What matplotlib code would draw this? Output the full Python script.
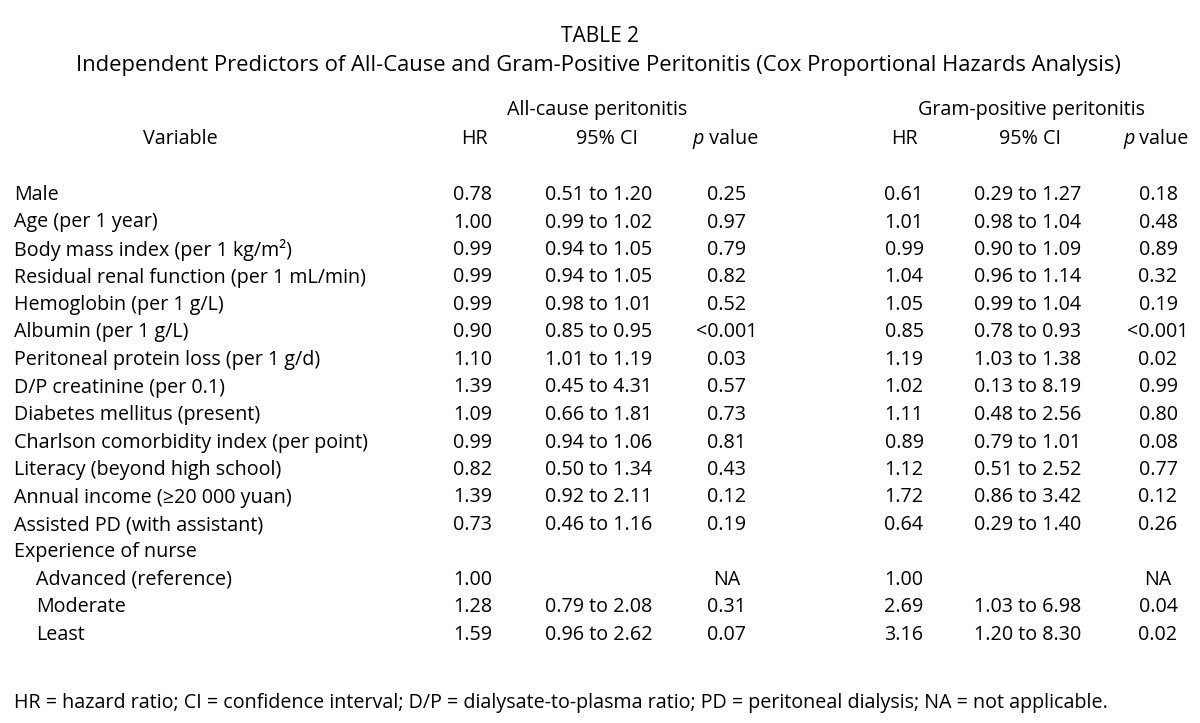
import matplotlib
matplotlib.use("Agg")
import matplotlib.pyplot as plt

plt.rcParams['font.family'] = ['Open Sans', 'DejaVu Sans']

title = "TABLE 2"
subtitle = "Independent Predictors of All-Cause and Gram-Positive Peritonitis (Cox Proportional Hazards Analysis)"
group_labels = ["All-cause peritonitis", "Gram-positive peritonitis"]
footnote = ("HR = hazard ratio; CI = confidence interval; D/P = dialysate-to-plasma ratio; "
            "PD = peritoneal dialysis; NA = not applicable.")

variables = [
    "Male", "Age (per 1 year)", "Body mass index (per 1 kg/m²)",
    "Residual renal function (per 1 mL/min)", "Hemoglobin (per 1 g/L)",
    "Albumin (per 1 g/L)", "Peritoneal protein loss (per 1 g/d)",
    "D/P creatinine (per 0.1)", "Diabetes mellitus (present)",
    "Charlson comorbidity index (per point)", "Literacy (beyond high school)",
    "Annual income (≥20 000 yuan)", "Assisted PD (with assistant)",
    "Experience of nurse", "Advanced (reference)", "Moderate", "Least",
]
indented = [False] * 14 + [True] * 3

hr_all = ["0.78", "1.00", "0.99", "0.99", "0.99", "0.90", "1.10", "1.39", "1.09",
          "0.99", "0.82", "1.39", "0.73", "", "1.00", "1.28", "1.59"]
ci_all = ["0.51 to 1.20", "0.99 to 1.02", "0.94 to 1.05", "0.94 to 1.05", "0.98 to 1.01",
          "0.85 to 0.95", "1.01 to 1.19", "0.45 to 4.31", "0.66 to 1.81", "0.94 to 1.06",
          "0.50 to 1.34", "0.92 to 2.11", "0.46 to 1.16", "", "", "0.79 to 2.08", "0.96 to 2.62"]
p_all = ["0.25", "0.97", "0.79", "0.82", "0.52", "<0.001", "0.03", "0.57", "0.73",
         "0.81", "0.43", "0.12", "0.19", "", "NA", "0.31", "0.07"]

hr_gp = ["0.61", "1.01", "0.99", "1.04", "1.05", "0.85", "1.19", "1.02", "1.11",
         "0.89", "1.12", "1.72", "0.64", "", "1.00", "2.69", "3.16"]
ci_gp = ["0.29 to 1.27", "0.98 to 1.04", "0.90 to 1.09", "0.96 to 1.14", "0.99 to 1.04",
         "0.78 to 0.93", "1.03 to 1.38", "0.13 to 8.19", "0.48 to 2.56", "0.79 to 1.01",
         "0.51 to 2.52", "0.86 to 3.42", "0.29 to 1.40", "", "", "1.03 to 6.98", "1.20 to 8.30"]
p_gp = ["0.18", "0.48", "0.89", "0.32", "0.19", "<0.001", "0.02", "0.99", "0.80",
        "0.08", "0.77", "0.12", "0.26", "", "NA", "0.04", "0.02"]

W, H = 1200, 723
fig = plt.figure(figsize=(W / 100, H / 100), dpi=100)
fig.patch.set_facecolor("white")

def fx(x):
    return x / W

def fy(y):
    return 1 - y / H

FS = 14.2
color = "#000000"

fig.text(fx(600), fy(37), title, ha="center", va="center", fontsize=15, color=color)
fig.text(fx(598), fy(65), subtitle, ha="center", va="center", fontsize=15.8, color=color)

fig.text(fx(597), fy(110), group_labels[0], ha="center", va="center", fontsize=FS, color=color)
fig.text(fx(1031), fy(110), group_labels[1], ha="center", va="center", fontsize=FS, color=color)

col_x = [473, 599, 727, 904, 1028, 1158]
head_x = [474, 607, 725, 904, 1030, 1156]
fig.text(fx(180), fy(139), "Variable", ha="center", va="center", fontsize=FS, color=color)
heads = ["HR", "95% CI", None, "HR", "95% CI", None]
fig.canvas.draw()
renderer = fig.canvas.get_renderer()
for cx, h in zip(head_x, heads):
    if h is not None:
        fig.text(fx(cx), fy(139), h, ha="center", va="center", fontsize=FS, color=color)
    else:
        t1 = fig.text(0, 0, "p", fontsize=FS, style="italic")
        t2 = fig.text(0, 0, " value", fontsize=FS)
        w1 = t1.get_window_extent(renderer).width
        w2 = t2.get_window_extent(renderer).width
        x0 = cx - (w1 + w2) / 2
        t1.set_position((fx(x0), fy(139)))
        t1.set_va("center"); t1.set_color(color)
        t2.set_position((fx(x0 + w1), fy(139)))
        t2.set_va("center"); t2.set_color(color)

y0, dy = 195, 27.5
for i, v in enumerate(variables):
    y = y0 + i * dy
    xv = 36 if indented[i] else 14
    fig.text(fx(xv), fy(y), v, ha="left", va="center", fontsize=FS, color=color)
    for cx, col in zip(col_x, [hr_all, ci_all, p_all, hr_gp, ci_gp, p_gp]):
        if col[i]:
            fig.text(fx(cx), fy(y), col[i], ha="center", va="center", fontsize=FS, color=color)

fig.text(fx(14), fy(703), footnote, ha="left", va="center", fontsize=FS, color=color)

fig.savefig("out.png", dpi=100, facecolor="white")
